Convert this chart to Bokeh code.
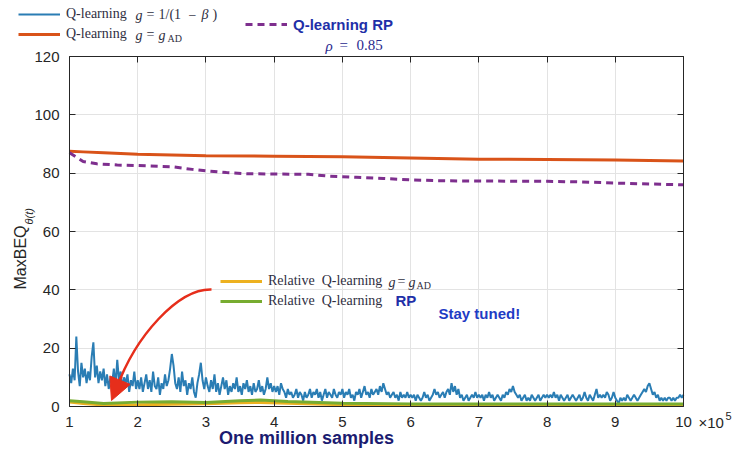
import numpy as np
from bokeh.plotting import figure
from bokeh.models import (Legend, LegendItem, Label, FixedTicker, Range1d,
                          Arrow, NormalHead, LinearAxis, CustomJSTickFormatter)
from bokeh.embed import file_html
from bokeh.resources import INLINE

# ---------------- data ----------------
samples = np.round(np.linspace(1, 10, 361), 4)  # x in units of 1e5 samples
q_learning_beta = [
    11,
    8, 13, 9, 24, 12, 7, 15, 10, 13, 8, 12, 9, 17, 22, 10, 14, 8, 12, 9, 13,
    7, 11, 6, 10, 8, 13, 7, 16, 9, 12, 6, 10, 8, 11, 5, 9, 7, 12, 6, 9,
    6, 10, 5, 8, 11, 6, 9, 5, 12, 7, 6, 10, 4, 8, 6, 11, 7, 9, 13, 18,
    14, 8, 6, 10, 5, 12, 7, 9, 4, 8, 6, 10, 5, 3, 8, 11, 15, 9, 6, 10,
    7, 5, 9, 6, 11, 5, 8, 4, 7, 10, 6, 9, 4, 7, 5, 8, 6, 10, 5, 7,
    4, 8, 6, 9, 5, 7, 4, 8, 5, 6, 9, 5, 7, 4, 6, 10, 6, 8, 5, 7,
    5, 7, 4, 8, 6, 5, 3, 6, 4, 5, 3, 4, 6, 3, 5, 4, 2, 5, 3, 4,
    6, 3, 5, 4, 6, 3, 5, 2, 4, 6, 3, 5, 4, 3, 6, 4, 3, 5, 4, 6,
    3, 5, 4, 6, 3, 4, 2, 5, 4, 6, 3, 5, 7, 4, 5, 3, 6, 4, 5, 6,
    4, 7, 5, 8, 6, 4, 5, 3, 4, 5, 3, 4, 2, 5, 3, 4, 3, 5, 3, 4,
    3, 4, 2, 4, 3, 2, 3, 5, 3, 4, 2, 3, 4, 6, 4, 5, 3, 4, 5, 3,
    5, 6, 4, 8, 5, 7, 4, 6, 3, 4, 2, 3, 4, 2, 3, 4, 3, 5, 3, 4,
    3, 4, 2, 4, 3, 5, 3, 4, 2, 3, 4, 3, 2, 4, 3, 5, 4, 6, 5, 7,
    5, 4, 3, 4, 2, 3, 4, 2, 3, 2, 4, 3, 2, 3, 4, 2, 3, 4, 3, 4,
    3, 4, 3, 5, 3, 4, 2, 4, 3, 2, 3, 4, 2, 3, 4, 3, 2, 3, 4, 2,
    3, 5, 3, 2, 4, 3, 2, 4, 6, 3, 4, 3, 4, 3, 5, 4, 2, 3, 5, 3,
    2, 1, 3, 2, 3, 2, 4, 3, 2, 3, 4, 3, 2, 3, 4, 5, 6, 5, 7, 8,
    6, 4, 5, 3, 4, 2, 3, 2, 3, 2, 3, 3, 2, 3, 2, 3, 3, 4, 3, 4,
]

gad_x = [1, 1.2, 1.5, 2, 3, 4, 5, 6, 7, 8, 9, 10]
q_learning_gad = [87.5, 87.3, 87.0, 86.5, 86.0, 85.8, 85.6, 85.2, 84.8, 84.7, 84.5, 84.2]

rp_x = [1.0, 1.1, 1.2, 1.4, 1.7, 2.0, 2.5, 2.8, 3.0, 3.3, 3.6, 4.0, 4.5, 4.8,
        5.2, 5.6, 6.0, 6.4, 7.0, 8.0, 8.5, 9.0, 9.5, 10.0]
q_learning_rp = [87.0, 85.5, 84.0, 83.2, 82.8, 82.6, 82.2, 81.3, 80.8, 80.2, 79.8,
                 79.7, 79.6, 79.0, 78.6, 78.2, 77.7, 77.4, 77.3, 77.2, 77.0, 76.6,
                 76.3, 76.0]

rel_x = [1, 1.2, 1.5, 2, 2.5, 3, 3.5, 3.8, 4.2, 5, 6, 7, 8, 8.5, 9, 10]
rel_q_gad = [1.5, 1.0, 0.5, 0.6, 0.8, 0.9, 1.3, 1.4, 1.1, 0.6, 0.4, 0.4, 0.6, 0.5, 0.4, 0.4]
rel_q_rp = [2.0, 1.6, 1.0, 1.5, 1.6, 1.4, 2.0, 2.2, 1.7, 1.1, 0.9, 0.9, 0.9, 0.9, 0.9, 0.9]

x_ticks = [1, 2, 3, 4, 5, 6, 7, 8, 9, 10]
y_ticks = [0, 20, 40, 60, 80, 100, 120]

# ---------------- colours ----------------
BLUE = "#2a7db4"
ORANGE = "#d95319"
PURPLE = "#7e2f8e"
YELLOW = "#edb120"
GREEN = "#77ac30"
RED = "#e62e1b"
TXT = "#262626"
LEG = "#2f2f3f"
NAVY_BOLD = "#1f2fa8"

W, H = 736, 450
# plot box in page pixels: x 1 -> 69, x 10 -> 683; y 0 -> 406, y 120 -> 56
SX = (683 - 69) / 9.0
SY = (406 - 56) / 120.0
x0 = 1 - 69 / SX
y1 = 120 + 56 / SY


def dx(px):
    return x0 + px / SX


def dy(py):
    return y1 - py / SY


p = figure(width=W, height=H, output_backend="svg", toolbar_location=None,
           x_range=Range1d(x0, x0 + W / SX), y_range=Range1d(y1 - H / SY, y1),
           min_border=0, min_border_left=0, min_border_right=0,
           min_border_top=0, min_border_bottom=0)
p.background_fill_color = "white"
p.border_fill_color = "white"
p.outline_line_color = None


def style_axis(ax, labels=True):
    ax.axis_line_color = TXT
    ax.axis_line_width = 1
    ax.major_tick_line_color = TXT
    ax.major_tick_in = 6
    ax.major_tick_out = 0
    ax.minor_tick_line_color = None
    ax.major_label_text_font = "Liberation Sans"
    ax.major_label_text_font_size = "15px"
    ax.major_label_text_color = TXT
    if not labels:
        ax.formatter = CustomJSTickFormatter(code="return ''")


xa = p.xaxis[0]
ya = p.yaxis[0]
style_axis(xa)
style_axis(ya)
xa.ticker = FixedTicker(ticks=x_ticks)
ya.ticker = FixedTicker(ticks=y_ticks)
xa.fixed_location = 0
ya.fixed_location = 1
xa.bounds = (1, 10)
ya.bounds = (0, 120)
xa.major_label_standoff = 10
ya.major_label_standoff = 10

top_ax = LinearAxis(ticker=FixedTicker(ticks=x_ticks), fixed_location=120,
                    bounds=(1, 10))
right_ax = LinearAxis(ticker=FixedTicker(ticks=y_ticks), fixed_location=10,
                      bounds=(0, 120))
style_axis(top_ax, labels=False)
style_axis(right_ax, labels=False)
p.add_layout(top_ax, "above")
p.add_layout(right_ax, "right")

# grid limited to the plot box
p.xgrid.ticker = FixedTicker(ticks=x_ticks)
p.ygrid.ticker = FixedTicker(ticks=y_ticks)
try:
    p.xgrid.cross_bounds = (0, 120)
    p.ygrid.cross_bounds = (1, 10)
    p.grid.grid_line_color = "#e3e3e3"
    p.grid.grid_line_width = 1
except Exception:
    p.grid.visible = False
    p.segment(x0=x_ticks, y0=0, x1=x_ticks, y1=120, line_color="#e3e3e3",
              line_width=1)
    p.segment(x0=1, y0=y_ticks, x1=10, y1=y_ticks, line_color="#e3e3e3",
              line_width=1)

# ---------------- series ----------------
r_blue = p.line(samples, q_learning_beta, line_color=BLUE, line_width=2)
r_orange = p.line(gad_x, q_learning_gad, line_color=ORANGE, line_width=3)
r_purple = p.line(rp_x, q_learning_rp, line_color=PURPLE, line_width=3,
                  line_dash="7 5")
r_yellow = p.line(rel_x, rel_q_gad, line_color=YELLOW, line_width=3)
r_green = p.line(rel_x, rel_q_rp, line_color=GREEN, line_width=3)


# ---------------- legends ----------------
def mk_legend(items, loc, font="Liberation Serif", size="14px", color=LEG,
              style="normal"):
    return Legend(items=items, location=loc, padding=0, margin=0, spacing=0,
                  glyph_width=42, glyph_height=20, label_height=20,
                  label_standoff=6, border_line_color=None,
                  background_fill_alpha=0, label_text_font=font,
                  label_text_font_size=size, label_text_color=color,
                  label_text_font_style=style)


leg_top = mk_legend([LegendItem(label="Q-learning", renderers=[r_blue]),
                     LegendItem(label="Q-learning", renderers=[r_orange])],
                    (18, H - 44))
leg_rp = mk_legend([LegendItem(label="Q-learning RP", renderers=[r_purple])],
                   (245, H - 34), font="Liberation Sans", size="15px",
                   color=NAVY_BOLD, style="bold")
leg_rel = mk_legend([LegendItem(label="Relative  Q-learning", renderers=[r_yellow]),
                     LegendItem(label="Relative  Q-learning", renderers=[r_green])],
                    (220, H - 311))
for lg in (leg_top, leg_rp, leg_rel):
    p.add_layout(lg, "center")


def lab(text, px, py, font="Liberation Serif", size="14px", color=LEG,
        style="normal", angle=0, align="left", baseline="middle"):
    p.add_layout(Label(x=dx(px), y=dy(py), text=text, text_font=font,
                       text_font_size=size, text_color=color,
                       text_font_style=style, angle=angle, text_align=align,
                       text_baseline=baseline))


# math parts of the top legend
lab("g", 135, 15, style="italic")
lab("=", 146, 14)
lab("1/(1", 158, 14)
lab("−", 188, 14)
lab("β", 201, 14, style="italic")
lab(")", 212, 14)
lab("g", 135, 35, style="italic")
lab("=", 146, 34)
lab("g", 158, 35, style="italic")
lab("AD", 167, 38, size="10px")
# rho
lab("ρ", 325, 45, color="#2a2a8f", style="italic", size="15px")
lab("=", 339, 44, color="#2a2a8f", size="15px")
lab("0.85", 356, 44, color="#2a2a8f", size="15px")
# inner legend math
lab("g", 388, 282, style="italic")
lab("=", 397, 281)
lab("g", 408, 282, style="italic")
lab("AD", 416, 285, size="10px")
lab("RP", 395, 300, font="Liberation Sans", size="15px", color=NAVY_BOLD,
    style="bold")

lab("Stay tuned!", 438, 313, font="Liberation Sans", size="15px",
    color="#1f3cc4", style="bold")

# axis titles
lab("One million samples", 306, 437, font="Liberation Sans", size="18px",
    color="#1b1b70", style="bold", align="center")
lab("MaxBEQ", 20, 289, font="Liberation Sans", size="16px", color=TXT,
    angle=np.pi / 2)
lab("θ(t)", 28, 224, font="Liberation Sans", size="11px", color=TXT,
    angle=np.pi / 2, style="italic")
lab("×10", 698, 422, font="Liberation Sans", size="15px", color=TXT)
lab("5", 725, 415, font="Liberation Sans", size="11px", color=TXT)

# red arrow
p.bezier(x0=dx(211), y0=dy(289), x1=dx(116), y1=dy(388),
         cx0=dx(178), cy0=dy(288), cx1=dx(135), cy1=dy(335),
         line_color=RED, line_width=2.5)
p.add_layout(Arrow(end=NormalHead(size=22, fill_color=RED, line_color=RED),
                   x_start=dx(121), y_start=dy(376), x_end=dx(111),
                   y_end=dy(400), line_color=RED, line_width=2.5))

open("out.html", "w").write(file_html(p, INLINE))
